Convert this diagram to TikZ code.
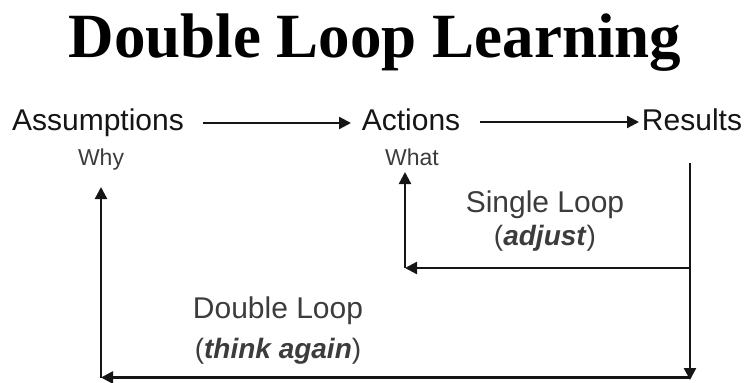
\documentclass[tikz,border=0pt]{standalone}
\usepackage{fontspec}
\setmainfont{Liberation Sans}
\newfontfamily\titlefont{Liberation Serif}
\usetikzlibrary{arrows.meta}
\definecolor{ink}{HTML}{151515}
\definecolor{soft}{HTML}{3C3C3C}
\begin{document}
\begin{tikzpicture}[x=1pt,y=-1pt,
  lbl/.style={inner sep=0pt,anchor=base,text=ink,font=\fontsize{30}{30}\selectfont},
  sub/.style={inner sep=0pt,anchor=base,text=soft,font=\fontsize{23}{23}\selectfont},
  looptxt/.style={inner sep=0pt,anchor=base,text=soft,font=\fontsize{30}{30}\selectfont},
  arr/.style={draw=ink,line width=2.4pt,-{Triangle[length=12pt,width=12pt]}},
  ln/.style={draw=ink,line width=2.4pt}]
\useasboundingbox (0,0) rectangle (748,383);
\node[inner sep=0pt,anchor=base,text=black,font=\titlefont\bfseries\fontsize{63}{63}\selectfont] (title) at (375,57) {Double Loop Learning};
\node[lbl] (ass) at (98,130) {Assumptions};
\node[sub] (why) at (101,165) {Why};
\node[lbl] (act) at (411,130) {Actions};
\node[sub] (what) at (412,165) {What};
\node[lbl] (res) at (692,130) {Results};
\node[looptxt] (sl) at (545,212) {Single Loop};
\node[looptxt,font=\fontsize{28}{28}\selectfont] (adj) at (545,245) {(\textbf{\textit{adjust}})};
\node[looptxt] (dl) at (278,318) {Double Loop};
\node[looptxt,font=\fontsize{28}{28}\selectfont] (think) at (278,358) {(\textbf{\textit{think again}})};
% coordinates
\coordinate (a1s) at (203,123);
\coordinate (a1e) at (351,123);
\coordinate (a2s) at (480,122);
\coordinate (a2e) at (639,122);
\coordinate (rtop) at (690,163);
\coordinate (rbot) at (690,380);
\coordinate (rbl) at (690,377.5);
\coordinate (rmid) at (690,268);
\coordinate (smid) at (405,268);
\coordinate (stip) at (405,172);
\coordinate (bl) at (101,377.5);
\coordinate (btip) at (101,187);
\draw[arr] (a1s) -- (a1e);
\draw[arr] (a2s) -- (a2e);
\draw[arr] (rtop) -- (rbot);
\draw[arr] (rbl) -- (bl);
\draw[arr] (bl) -- (btip);
\draw[arr] (rmid) -- (smid);
\draw[arr] (smid) -- (stip);
\end{tikzpicture}
\end{document}
